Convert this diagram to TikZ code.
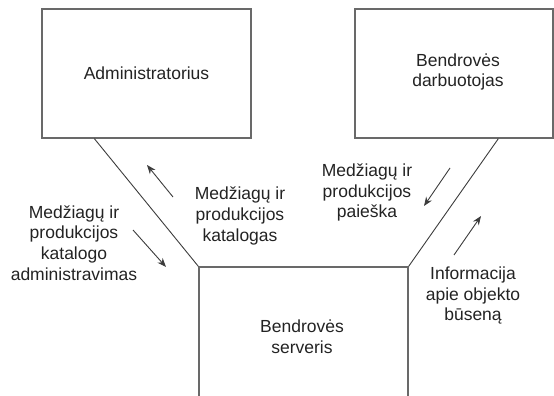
\documentclass[tikz,border=0pt]{standalone}
\usepackage{fontspec}
\setmainfont{Liberation Sans}
\usetikzlibrary{arrows.meta}
\definecolor{boxline}{RGB}{105,105,105}
\definecolor{linkline}{RGB}{60,60,60}
\definecolor{txt}{RGB}{35,35,35}
\begin{document}
\begin{tikzpicture}[x=1pt,y=-1pt,
  every node/.style={font=\fontsize{17.5}{20.6}\selectfont, text=txt},
  actor/.style={draw=boxline, line width=1.3pt, rectangle, inner sep=0pt},
  link/.style={draw=linkline, line width=0.9pt},
  flow/.style={draw=linkline, line width=0.9pt, -{Stealth[length=9pt,width=7pt]}},
  caption/.style={align=center, inner sep=0pt}]
\useasboundingbox (0,0) rectangle (554,396);
\clip (0,0) rectangle (554,396);

% three parties
\node[actor, minimum width=209pt, minimum height=129pt] (admin) at (146.5,73.5) {Administratorius};
\node[actor, minimum width=198pt, minimum height=129pt] (staff) at (454,73.5) {};
\node[caption] (stafftext) at (458,72) {Bendrovės\\darbuotojas};
\node[actor, minimum width=209pt, minimum height=139pt] (server) at (303.5,336.5) {};
\node[caption] (servertext) at (302,336.5) {Bendrovės\\serveris};

% links to the server
\draw[link] (admin.south west) ++(53,0) coordinate (adminfoot) -- (server.north west);
\draw[link] (staff.south west) ++(144,0) coordinate (stafffoot) -- (server.north east);

% flows along the left link
\coordinate (a1s) at (173,197);
\coordinate (a1e) at (147,165);
\draw[flow] (a1s) -- (a1e);
\coordinate (a2s) at (133,230);
\coordinate (a2e) at (166,267);
\draw[flow] (a2s) -- (a2e);

% flows along the right link
\coordinate (b1s) at (450,168);
\coordinate (b1e) at (424,206);
\draw[flow] (b1s) -- (b1e);
\coordinate (b2s) at (454,255);
\coordinate (b2e) at (481,216);
\draw[flow] (b2s) -- (b2e);

% flow captions
\node[caption] (catalog) at (240,216) {Medžiagų ir\\produkcijos\\katalogas};
\node[caption] (catadmin) at (74,243) {Medžiagų ir\\produkcijos\\katalogo\\administravimas};
\node[caption] (search) at (367,192.5) {Medžiagų ir\\produkcijos\\paieška};
\node[caption] (state) at (473,295.5) {Informacija\\apie objekto\\būseną};
\end{tikzpicture}
\end{document}
